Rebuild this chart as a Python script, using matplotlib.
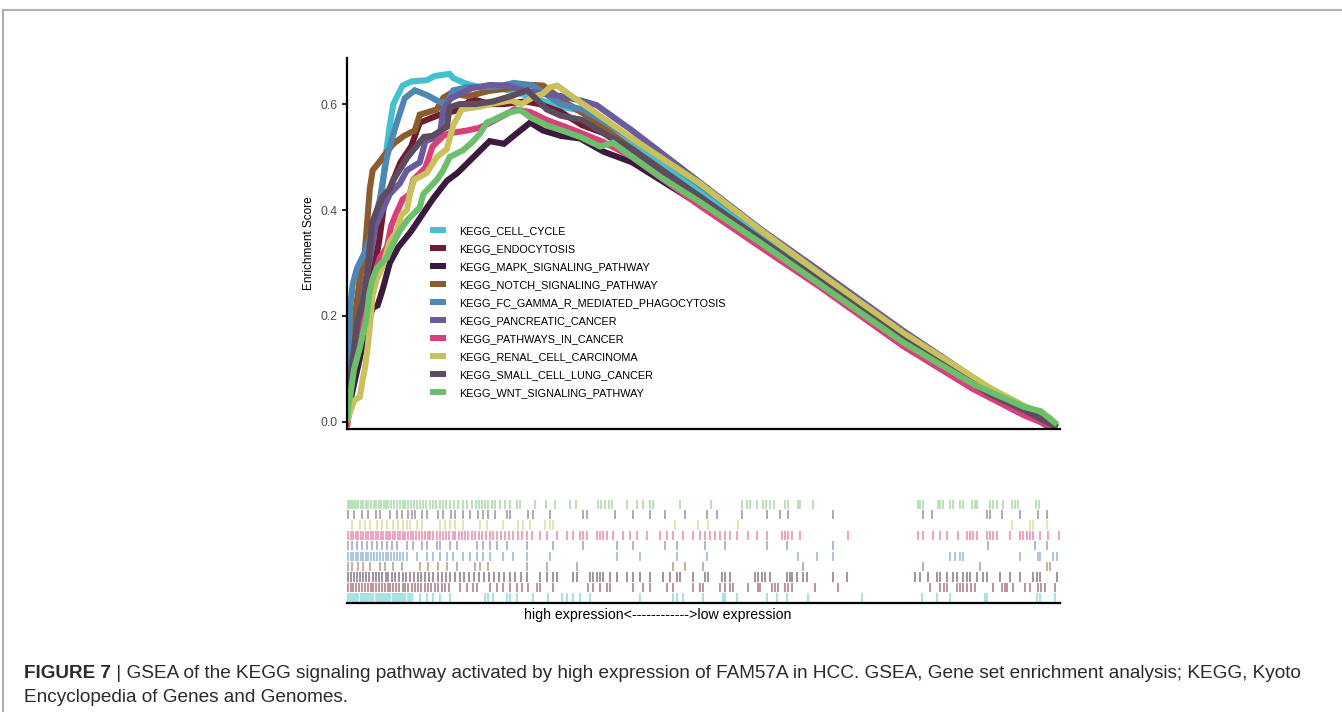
import matplotlib
matplotlib.use("Agg")
import matplotlib.pyplot as plt
from matplotlib.patches import Patch
from matplotlib.lines import Line2D

plt.rcParams['font.family'] = ['Liberation Sans', 'DejaVu Sans']

# gene sets, in legend order
SET_NAMES = [
    "KEGG_CELL_CYCLE",
    "KEGG_ENDOCYTOSIS",
    "KEGG_MAPK_SIGNALING_PATHWAY",
    "KEGG_NOTCH_SIGNALING_PATHWAY",
    "KEGG_FC_GAMMA_R_MEDIATED_PHAGOCYTOSIS",
    "KEGG_PANCREATIC_CANCER",
    "KEGG_PATHWAYS_IN_CANCER",
    "KEGG_RENAL_CELL_CARCINOMA",
    "KEGG_SMALL_CELL_LUNG_CANCER",
    "KEGG_WNT_SIGNALING_PATHWAY",
]
SET_COLORS = ["#45C0CC", "#6E1C2E", "#3B1A3D", "#8C5B2E", "#4F86B4",
              "#6A5B9C", "#D8407C", "#C9C25C", "#5E4B60", "#6CC06C"]

# running enrichment score: (rank position in %, ES)
CELL_CYCLE_ES = [(0, 0.03), (0.8, 0.12), (2.0, 0.2), (3.0, 0.27), (4.0, 0.33), (4.6, 0.37),
                 (5.0, 0.45), (5.6, 0.52), (6.0, 0.56), (6.5, 0.6), (7.8, 0.635), (9.1, 0.643),
                 (11.2, 0.645), (12.3, 0.653), (14.4, 0.657), (14.9, 0.649), (16.8, 0.638),
                 (18.7, 0.632), (21.5, 0.63), (24.3, 0.62), (29.9, 0.595), (32.7, 0.588),
                 (40, 0.525), (49.5, 0.438), (58, 0.355), (66.3, 0.276), (78, 0.163),
                 (90.2, 0.058), (95, 0.024), (99.6, -0.012)]
ENDOCYTOSIS_ES = [(0, 0.02), (1.0, 0.1), (2.5, 0.2), (3.5, 0.27), (4.5, 0.34), (5.2, 0.41),
                  (6.3, 0.45), (7.5, 0.49), (9.0, 0.52), (10.2, 0.565), (13, 0.58), (16, 0.59),
                  (17.5, 0.61), (20, 0.6), (22, 0.6), (25, 0.605), (27, 0.6), (30, 0.585),
                  (33, 0.56), (36, 0.545), (40, 0.51), (49.5, 0.42), (58, 0.34), (66.3, 0.263),
                  (78, 0.152), (90.2, 0.05), (95, 0.02), (99.6, -0.01)]
MAPK_ES = [(0, 0.01), (0.8, 0.06), (1.8, 0.12), (2.8, 0.18), (3.6, 0.215), (4.3, 0.22),
           (5, 0.25), (6, 0.3), (7.2, 0.33), (9, 0.36), (10.5, 0.39), (12, 0.42), (14, 0.455),
           (15.5, 0.47), (18.5, 0.51), (20, 0.53), (22, 0.525), (24.3, 0.55), (25.7, 0.565),
           (27.5, 0.55), (30, 0.54), (32.7, 0.535), (36, 0.51), (40, 0.49), (49.5, 0.41),
           (58, 0.335), (66.3, 0.258), (78, 0.148), (90.2, 0.047), (95, 0.018), (99.6, -0.01)]
NOTCH_ES = [(0, 0.05), (0.4, 0.1), (1.3, 0.22), (1.8, 0.27), (2.5, 0.32), (3.2, 0.44),
            (3.6, 0.475), (4.5, 0.49), (5.6, 0.51), (6.5, 0.525), (8.0, 0.54), (9.5, 0.55),
            (10.2, 0.58), (12.6, 0.59), (13.5, 0.612), (14.5, 0.62), (17, 0.615), (20, 0.625),
            (23, 0.63), (24.5, 0.637), (27.5, 0.635), (29, 0.62), (31, 0.6), (34, 0.575),
            (40, 0.515), (49.5, 0.425), (58, 0.343), (66.3, 0.266), (78, 0.155),
            (90.2, 0.05), (95, 0.02), (99, -0.015), (99.6, -0.012)]
FC_GAMMA_ES = [(0, 0.02), (0.2, 0.1), (0.4, 0.21), (0.8, 0.26), (1.4, 0.29), (2.5, 0.32),
               (3.5, 0.36), (4.6, 0.42), (5.6, 0.5), (6.8, 0.557), (8.1, 0.611), (9.5, 0.626),
               (11.2, 0.617), (13, 0.604), (14, 0.602), (14.9, 0.626), (17, 0.632), (20, 0.632),
               (21.5, 0.634), (23.4, 0.64), (26, 0.635), (30, 0.6), (33, 0.59), (35, 0.575),
               (40, 0.535), (45, 0.49), (49.5, 0.447), (58, 0.362), (66.3, 0.284), (78, 0.17),
               (90.2, 0.06), (95, 0.026), (99.6, -0.01)]
PANCREATIC_ES = [(0, 0.0), (0.5, 0.06), (0.9, 0.12), (1.8, 0.2), (2.5, 0.26), (3.2, 0.31),
                 (4.0, 0.37), (5.0, 0.4), (6.0, 0.43), (7.4, 0.45), (8.4, 0.475), (10.2, 0.49),
                 (11.0, 0.53), (13, 0.54), (13.5, 0.59), (14.5, 0.61), (16, 0.62), (17.5, 0.63),
                 (20, 0.636), (22.5, 0.635), (25, 0.625), (27.5, 0.62), (30, 0.615),
                 (33, 0.606), (35, 0.598), (40, 0.55), (49.5, 0.452), (58, 0.364),
                 (66.3, 0.285), (78, 0.172), (90.2, 0.062), (95, 0.028), (99.6, -0.01)]
PATHWAYS_ES = [(0, -0.01), (0.3, 0.02), (0.8, 0.1), (1.8, 0.155), (2.5, 0.2), (3.2, 0.24),
               (3.7, 0.27), (4.6, 0.31), (5.6, 0.33), (6.2, 0.37), (6.8, 0.39), (7.8, 0.42),
               (8.8, 0.43), (9.3, 0.457), (11, 0.48), (12, 0.52), (13.5, 0.54), (14.4, 0.545),
               (16.8, 0.55), (18.5, 0.555), (20.1, 0.565), (22.2, 0.58), (23.5, 0.59),
               (25.7, 0.585), (28, 0.57), (32, 0.55), (36, 0.528), (40, 0.5), (49.5, 0.408),
               (58, 0.33), (66.3, 0.255), (78, 0.143), (87.8, 0.062), (95, 0.012),
               (99.6, -0.013)]
RENAL_ES = [(0, 0.0), (0.4, 0.017), (1.0, 0.04), (1.8, 0.047), (2.2, 0.08), (2.5, 0.1),
            (2.9, 0.14), (3.2, 0.18), (3.6, 0.24), (4.2, 0.27), (4.9, 0.29), (6.0, 0.34),
            (7.0, 0.36), (7.6, 0.39), (8.4, 0.4), (8.8, 0.43), (9.4, 0.457), (11.2, 0.47),
            (12.6, 0.5), (14, 0.515), (14.9, 0.56), (16.1, 0.59), (18.5, 0.595), (20.1, 0.6),
            (23, 0.607), (24.5, 0.6), (25.7, 0.61), (27.5, 0.62), (28.5, 0.632),
            (29.5, 0.635), (31, 0.62), (32.7, 0.604), (40, 0.535), (49.5, 0.45),
            (58, 0.362), (66.3, 0.28), (78, 0.168), (90.2, 0.064), (95, 0.03),
            (98.5, 0.008), (99.6, -0.008)]
SMALL_CELL_ES = [(0, 0.03), (0.4, 0.08), (0.8, 0.12), (1.5, 0.19), (2.5, 0.24), (3.0, 0.3),
                 (3.5, 0.375), (4.2, 0.4), (5.0, 0.425), (6.0, 0.44), (6.5, 0.457), (8.5, 0.5),
                 (10.8, 0.538), (12, 0.54), (14, 0.557), (14.4, 0.594), (15.8, 0.6), (18, 0.6),
                 (20.5, 0.605), (23, 0.615), (25.3, 0.626), (26.5, 0.61), (28, 0.59),
                 (30, 0.578), (33, 0.57), (36, 0.545), (40, 0.515), (49.5, 0.425),
                 (58, 0.345), (66.3, 0.266), (78, 0.155), (90.2, 0.052), (95, 0.022),
                 (99.6, -0.01)]
WNT_ES = [(0, 0.0), (0.2, 0.03), (0.5, 0.055), (1.0, 0.1), (1.8, 0.14), (2.3, 0.17),
          (2.8, 0.2), (3.1, 0.24), (3.6, 0.27), (4.2, 0.29), (5.6, 0.31), (6.2, 0.33),
          (7.4, 0.36), (8.4, 0.38), (10.2, 0.405), (10.7, 0.43), (12.6, 0.457),
          (13.5, 0.475), (14.4, 0.5), (16.3, 0.513), (17.7, 0.53), (18.7, 0.545),
          (19.6, 0.565), (20.5, 0.57), (22.5, 0.583), (24.3, 0.589), (25.7, 0.575),
          (28, 0.56), (30.2, 0.55), (32.7, 0.538), (35.5, 0.52), (37.3, 0.527), (39, 0.51),
          (44, 0.462), (49.5, 0.415), (58, 0.338), (66.3, 0.26), (78, 0.15), (88, 0.07),
          (95, 0.028), (97.3, 0.02), (99.6, -0.005)]

# positions (rank %) of member genes in the ranked list
CELL_CYCLE_HITS = [0.1, 0.4, 0.7, 1.0, 1.3, 1.6, 1.9, 2.2, 2.5, 2.8, 3.1, 3.4, 3.7, 4.0, 4.3,
                   4.6, 4.9, 5.2, 5.5, 5.8, 6.1, 6.4, 6.7, 7.0, 7.3, 7.6, 7.9, 8.2, 8.5, 8.8,
                   9.1, 10.2, 11.2, 12.1, 13.0, 14.4, 19.4, 19.8, 20.5, 22.4, 22.9, 23.8,
                   26.1, 28.2, 30.2, 30.9, 31.7, 32.7, 34.1, 41.1, 45.7, 46.3, 47.1, 49.9,
                   52.7, 53.0, 54.7, 58.9, 60.3, 61.7, 64.7, 72.2, 80.6, 82.8, 84.6, 89.5,
                   89.8, 96.8, 97.2, 99.3]
ENDOCYTOSIS_HITS = [0.1, 0.5, 0.9, 1.3, 1.7, 2.1, 2.5, 2.9, 3.3, 3.7, 4.1, 4.5, 4.9, 5.3, 5.7,
                    6.1, 6.5, 6.9, 7.3, 7.8, 8.2, 8.6, 9.1, 9.5, 10.0, 10.4, 10.9, 11.3, 11.8,
                    12.3, 12.8, 13.3, 13.8, 14.3, 15.8, 16.8, 17.7, 18.2, 20.1, 21.0, 21.9,
                    22.9, 23.8, 24.5, 25.4, 26.6, 27.1, 28.9, 33.8, 34.5, 35.5, 36.5, 36.9,
                    40.1, 41.5, 42.5, 44.9, 45.7, 48.5, 49.5, 49.9, 52.3, 53.0, 53.7, 54.1,
                    56.2, 57.6, 57.9, 59.6, 60.0, 60.4, 61.4, 61.9, 62.4, 65.6, 68.9, 81.8,
                    83.2, 83.7, 84.2, 85.6, 86.0, 86.4, 87.0, 87.5, 88.1, 90.6, 91.9, 92.3,
                    92.6, 93.4, 95.1, 95.8, 96.9, 97.3, 97.9, 99.3]
MAPK_HITS = [0.2, 0.6, 1.0, 1.4, 1.8, 2.3, 2.7, 3.1, 3.6, 4.0, 4.5, 4.9, 5.4, 5.8, 6.3, 6.8,
             7.3, 7.8, 8.3, 8.8, 9.4, 9.9, 10.4, 11.0, 11.5, 12.1, 12.7, 13.3, 13.9, 14.5,
             15.1, 15.8, 16.4, 17.1, 17.8, 18.5, 19.2, 19.9, 20.6, 21.3, 22.0, 22.8, 23.6,
             24.4, 25.2, 27.1, 28.0, 28.9, 29.5, 31.7, 32.3, 34.1, 34.5, 35.1, 35.5, 35.9,
             36.9, 37.9, 39.3, 40.1, 41.1, 42.5, 44.3, 45.3, 46.3, 46.7, 48.5, 50.2, 50.6,
             52.6, 53.0, 53.7, 57.2, 57.6, 58.2, 58.6, 59.3, 61.7, 62.1, 62.4, 63.1, 64.0,
             64.5, 68.2, 70.1, 79.7, 80.4, 81.5, 82.8, 83.2, 84.2, 85.0, 85.6, 86.4, 87.0,
             87.4, 88.4, 89.2, 89.8, 91.6, 93.0, 94.4, 96.2, 96.8, 97.2, 99.6]
NOTCH_HITS = [0.1, 0.7, 1.5, 2.2, 3.2, 4.6, 5.3, 6.5, 7.7, 10.2, 11.4, 12.8, 14.0, 15.4, 18.0,
              18.7, 19.8, 25.2, 28.0, 32.3, 45.7, 47.4, 49.9, 64.0, 80.8, 88.8, 98.2, 98.6]
FC_GAMMA_HITS = [0.1, 0.5, 0.8, 1.2, 1.6, 1.9, 2.3, 2.7, 3.0, 3.4, 3.8, 4.2, 4.6, 5.0, 5.4,
                 5.8, 6.2, 6.6, 7.0, 7.5, 7.9, 8.4, 9.8, 11.2, 12.1, 13.0, 14.0, 14.9, 16.3,
                 17.3, 18.2, 19.1, 20.1, 21.9, 23.3, 25.2, 28.5, 37.9, 41.1, 46.3, 50.5, 63.3,
                 65.9, 68.2, 84.6, 85.3, 86.0, 86.4, 94.4, 96.9, 97.2, 99.0, 99.6]
PANCREATIC_HITS = [0.1, 0.7, 1.4, 2.1, 2.8, 3.5, 4.2, 4.9, 5.6, 6.3, 7.0, 8.4, 9.3, 10.5,
                   11.2, 12.6, 13.0, 14.4, 15.4, 18.2, 19.1, 20.1, 21.0, 22.4, 25.2, 28.9,
                   33.1, 37.9, 40.1, 44.6, 46.3, 50.2, 53.0, 58.9, 61.7, 68.2, 89.9, 96.5,
                   98.2]
PATHWAYS_HITS = [0.1, 0.5, 0.8, 1.2, 1.5, 1.9, 2.2, 2.6, 2.9, 3.3, 3.6, 4.0, 4.3, 4.7, 5.0,
                 5.4, 5.7, 6.1, 6.4, 6.8, 7.1, 7.5, 7.8, 8.2, 8.6, 9.0, 9.3, 9.7, 10.1, 10.5,
                 10.9, 11.3, 11.7, 12.1, 12.6, 13.0, 13.4, 13.9, 14.3, 14.8, 15.2, 15.7,
                 16.1, 16.6, 17.0, 17.5, 18.0, 18.5, 19.0, 19.5, 20.0, 20.5, 21.0, 21.6,
                 22.1, 22.7, 23.3, 24.0, 24.5, 25.2, 25.9, 27.1, 28.0, 29.5, 30.9, 31.7,
                 32.7, 33.1, 33.7, 35.1, 35.5, 35.9, 36.5, 37.3, 38.7, 39.7, 40.7, 42.1,
                 43.9, 44.9, 45.7, 47.1, 48.5, 49.5, 50.2, 50.9, 51.6, 52.3, 53.0, 53.7,
                 54.7, 56.2, 57.5, 58.9, 61.0, 61.4, 61.9, 62.4, 63.5, 70.3, 80.1, 80.8,
                 82.2, 83.2, 84.2, 85.7, 87.0, 87.4, 87.8, 88.4, 89.8, 90.2, 90.6, 91.2,
                 93.0, 94.4, 94.8, 95.4, 95.8, 96.2, 97.2, 98.3, 99.8]
RENAL_HITS = [0.7, 1.8, 2.5, 3.2, 4.2, 4.9, 5.6, 6.5, 7.2, 7.9, 8.4, 8.8, 9.8, 10.5, 13.0,
              13.7, 14.4, 15.1, 16.3, 18.7, 19.6, 21.9, 24.0, 24.7, 25.7, 27.8, 28.5, 28.9,
              46.0, 49.2, 50.6, 54.8, 93.3, 95.8, 96.2, 98.2]
SMALL_CELL_HITS = [0.1, 1.0, 2.1, 2.9, 4.1, 4.6, 6.0, 7.0, 7.7, 8.6, 9.1, 9.5, 10.5, 11.2,
                   12.8, 13.5, 14.6, 15.1, 16.3, 17.3, 18.4, 19.1, 19.8, 20.8, 22.4, 22.9,
                   25.4, 26.1, 28.5, 33.1, 33.7, 37.6, 40.1, 42.5, 44.6, 47.4, 50.5, 51.9,
                   55.4, 58.9, 60.7, 61.9, 68.2, 80.8, 82.0, 89.8, 90.2, 91.9, 94.4, 96.9,
                   98.2]
WNT_HITS = [0.1, 0.4, 0.7, 1.0, 1.3, 1.5, 2.0, 2.2, 2.7, 2.9, 3.4, 3.8, 4.1, 4.5, 4.8, 5.2,
            5.5, 5.8, 6.2, 6.6, 7.0, 7.4, 7.9, 8.1, 8.6, 9.0, 9.4, 9.8, 10.2, 10.7, 11.1,
            11.6, 12.1, 12.5, 13.0, 13.5, 13.9, 14.4, 15.0, 15.6, 16.3, 16.8, 17.5, 18.1,
            18.5, 18.9, 19.4, 19.8, 20.3, 20.8, 21.5, 22.2, 22.9, 23.8, 24.3, 26.4, 27.9,
            29.2, 31.3, 32.1, 35.2, 35.6, 36.2, 36.8, 37.2, 39.3, 40.7, 41.5, 42.5, 42.9,
            46.7, 51.1, 55.4, 56.1, 56.5, 57.5, 58.4, 58.8, 59.3, 59.9, 61.4, 61.9, 63.3,
            63.5, 65.4, 80.1, 80.4, 80.8, 82.9, 83.2, 83.6, 84.6, 85.0, 86.0, 86.4, 87.7,
            88.1, 88.4, 90.2, 90.6, 91.2, 92.0, 93.3, 93.7, 94.1, 96.6, 97.1]

ES_CURVES = [CELL_CYCLE_ES, ENDOCYTOSIS_ES, MAPK_ES, NOTCH_ES, FC_GAMMA_ES,
             PANCREATIC_ES, PATHWAYS_ES, RENAL_ES, SMALL_CELL_ES, WNT_ES]
HIT_LISTS = [CELL_CYCLE_HITS, ENDOCYTOSIS_HITS, MAPK_HITS, NOTCH_HITS, FC_GAMMA_HITS,
             PANCREATIC_HITS, PATHWAYS_HITS, RENAL_HITS, SMALL_CELL_HITS, WNT_HITS]

W, H = 1342, 712
fig = plt.figure(figsize=(W / 100, H / 100), dpi=100)

def fx(px):
    return px / W

def fy(py):
    return 1 - py / H

# running ES panel
ax = fig.add_axes([fx(347), fy(429), fx(1060) - fx(347), fy(58) - fy(429)])
for curve, color in zip(ES_CURVES, SET_COLORS):
    xs = [p[0] for p in curve]
    ys = [p[1] for p in curve]
    ax.plot(xs, ys, color=color, lw=4.4, solid_joinstyle='miter', solid_capstyle='butt')

ax.set_xlim(0, 100)
ax.set_ylim(-0.0135, 0.687)
ax.set_yticks([0.0, 0.2, 0.4, 0.6])
ax.set_yticklabels(["0.0", "0.2", "0.4", "0.6"])
ax.set_xticks([])
for side in ("top", "right"):
    ax.spines[side].set_visible(False)
for side in ("left", "bottom"):
    ax.spines[side].set_linewidth(1.6)
    ax.spines[side].set_color("black")
ax.tick_params(axis="y", length=3.5, width=1.2, labelsize=8.7, labelcolor="#4D4D4D", pad=3)
ax.set_ylabel("Enrichment Score", fontsize=8.5, labelpad=4)

handles = [Patch(facecolor=c, edgecolor='none') for c in SET_COLORS]
ax.legend(handles, SET_NAMES, loc="upper left", bbox_to_anchor=(0.117, 0.547),
          frameon=False, fontsize=7.8, handlelength=1.4, handleheight=0.5,
          handletextpad=1.25, labelspacing=0.74, borderpad=0, borderaxespad=0)

# hit barcode panel
bx = fig.add_axes([fx(347), fy(603), fx(1060) - fx(347), fy(499) - fy(603)])
for row, (hits, color) in enumerate(zip(HIT_LISTS, SET_COLORS)):
    bx.vlines(hits, row + 0.05, row + 0.95, color=color, lw=1.1, alpha=0.6)
bx.set_xlim(0, 100)
bx.set_ylim(0, 10)
bx.set_xticks([])
bx.set_yticks([])
for side in ("top", "right", "left"):
    bx.spines[side].set_visible(False)
bx.spines["bottom"].set_linewidth(1.6)
bx.text((524 - 347) / 713, -0.12, "high expression<------------>low expression",
        transform=bx.transAxes, fontsize=10.2, ha="left", va="center")

# page frame
fig.add_artist(Line2D([fx(3), 1], [fy(10), fy(10)], color="#B0B0B0", lw=1.5))
fig.add_artist(Line2D([fx(3), fx(3)], [fy(10), 0], color="#B0B0B0", lw=1.5))

# caption
cap_color = "#2B2B2B"
t1 = fig.text(fx(24), fy(674), "FIGURE 7", fontsize=13.6, fontweight="bold",
              color=cap_color, va="center", ha="left")
fig.canvas.draw()
bb = t1.get_window_extent()
fig.text(bb.x1 / W, fy(674),
         " | GSEA of the KEGG signaling pathway activated by high expression of FAM57A "
         "in HCC. GSEA, Gene set enrichment analysis; KEGG, Kyoto",
         fontsize=13.65, color=cap_color, va="center", ha="left")
fig.text(fx(24), fy(698), "Encyclopedia of Genes and Genomes.", fontsize=13.65,
         color=cap_color, va="center", ha="left")

fig.savefig("out.png", dpi=100)
